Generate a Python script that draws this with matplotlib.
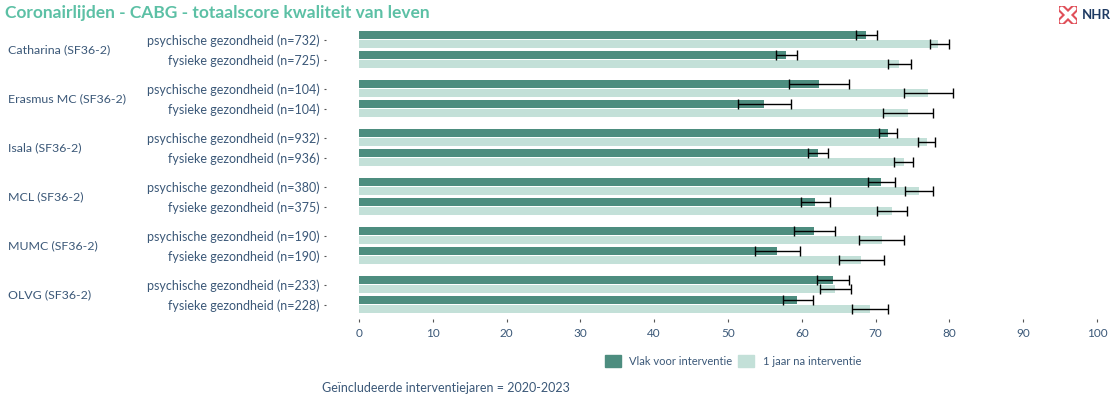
import matplotlib
matplotlib.use("Agg")
import matplotlib.pyplot as plt
import matplotlib.transforms as mtransforms
from matplotlib.patches import Patch
import numpy as np

plt.rcParams["font.family"] = ["Lato", "DejaVu Sans"]

# data
hospitals = ["Catharina (SF36-2)", "Erasmus MC (SF36-2)", "Isala (SF36-2)",
             "MCL (SF36-2)", "MUMC (SF36-2)", "OLVG (SF36-2)"]
row_labels = [
    ["psychische gezondheid (n=732)", "fysieke gezondheid (n=725)"],
    ["psychische gezondheid (n=104)", "fysieke gezondheid (n=104)"],
    ["psychische gezondheid (n=932)", "fysieke gezondheid (n=936)"],
    ["psychische gezondheid (n=380)", "fysieke gezondheid (n=375)"],
    ["psychische gezondheid (n=190)", "fysieke gezondheid (n=190)"],
    ["psychische gezondheid (n=233)", "fysieke gezondheid (n=228)"],
]
# before intervention (psych, phys) per hospital
before = [68.7, 57.9, 62.3, 54.9, 71.7, 62.2, 70.7, 61.8, 61.7, 56.6, 64.2, 59.4]
before_lo = [67.4, 56.5, 58.3, 51.4, 70.5, 60.9, 69.0, 59.9, 59.0, 53.7, 62.1, 57.5]
before_hi = [70.2, 59.4, 66.4, 58.5, 72.9, 63.5, 72.6, 63.8, 64.5, 59.7, 66.4, 61.5]
# one year after intervention
after = [78.5, 73.2, 77.1, 74.4, 77.0, 73.8, 75.9, 72.2, 70.9, 68.0, 64.5, 69.2]
after_lo = [77.4, 71.7, 73.8, 71.0, 75.8, 72.5, 74.0, 70.2, 67.8, 65.0, 62.4, 66.8]
after_hi = [79.9, 74.8, 80.5, 77.8, 78.1, 75.1, 77.8, 74.3, 73.9, 71.2, 66.7, 71.7]
footnote = "Geïncludeerde interventiejaren = 2020-2023"
title = "Coronairlijden - CABG - totaalscore kwaliteit van leven"
legend_labels = ["Vlak voor interventie", "1 jaar na interventie"]

dark = "#4d8d7f"
light = "#c3e0d8"
txt = "#3b5878"

before = np.array(before)
after = np.array(after)
pos = np.array([i * 2.45 + j for i in range(len(hospitals)) for j in range(2)])
labels = [lab for pair in row_labels for lab in pair]

fig = plt.figure(figsize=(11.18, 3.98), dpi=100)
ax = fig.add_axes([359 / 1118, 1 - 319 / 398, 738 / 1118, 291 / 398])

ax.barh(pos - 0.225, before, height=0.4, color=dark)
ax.barh(pos + 0.225, after, height=0.4, color=light)
ax.errorbar(before, pos - 0.225,
            xerr=[before - np.array(before_lo), np.array(before_hi) - before],
            fmt="none", ecolor="black", elinewidth=1, capsize=3.5, capthick=1)
ax.errorbar(after, pos + 0.225,
            xerr=[after - np.array(after_lo), np.array(after_hi) - after],
            fmt="none", ecolor="black", elinewidth=1, capsize=3.5, capthick=1)

ax.set_xlim(0, 100)
ax.set_ylim(pos[-1] + 0.725, pos[0] - 0.575)
ax.set_xticks(range(0, 101, 10))
ax.set_yticks(pos)
ax.set_yticklabels(labels)
for s in ax.spines.values():
    s.set_visible(False)
ax.spines["left"].set_position(("outward", 24))
ax.tick_params(axis="y", length=1.5, width=0.8, pad=3, labelsize=9,
               labelcolor=txt, color="#555555")
ax.tick_params(axis="x", length=2.5, width=0.8, pad=4, labelsize=8.5,
               labelcolor=txt, color="#555555")

trans = mtransforms.blended_transform_factory(fig.transFigure, ax.transData)
for i, h in enumerate(hospitals):
    ax.text(8 / 1118, i * 2.45 + 0.5, h, transform=trans, ha="left",
            va="center", fontsize=8.9, color=txt)

fig.text(5 / 1118, 1 - 13 / 398, title, ha="left", va="center",
         fontsize=12.5, fontweight="bold", color="#5cc0a5")

handles = [Patch(color=dark), Patch(color=light)]
fig.legend(handles, legend_labels, loc="center", ncol=2, frameon=False,
           bbox_to_anchor=(733 / 1118, 1 - 361 / 398), fontsize=8,
           labelcolor=txt, handlelength=1.4, handleheight=1.4,
           handletextpad=0.8, columnspacing=0.5)

fig.text(322 / 1118, 1 - 388 / 398, footnote, ha="left", va="center",
         fontsize=9, color=txt)

# NHR logo
fig.text(1111 / 1118, 1 - 15 / 398, "NHR", ha="right", va="center",
         fontsize=9.5, fontweight="bold", color="#1f3b63")
lax = fig.add_axes([1059 / 1118, 1 - 24 / 398, 18 / 1118, 18 / 398])
lax.axis("off")
lax.set_xlim(0, 1)
lax.set_ylim(0, 1)
for xs, ys in [([0.15, 0.85], [0.15, 0.85]), ([0.15, 0.85], [0.85, 0.15])]:
    lax.plot(xs, ys, color="#e0505a", lw=6, solid_capstyle="round")
for xs, ys in [([0.15, 0.85], [0.15, 0.85]), ([0.15, 0.85], [0.85, 0.15])]:
    lax.plot(xs, ys, color="white", lw=3, solid_capstyle="round")

fig.savefig("out.png", dpi=100)
